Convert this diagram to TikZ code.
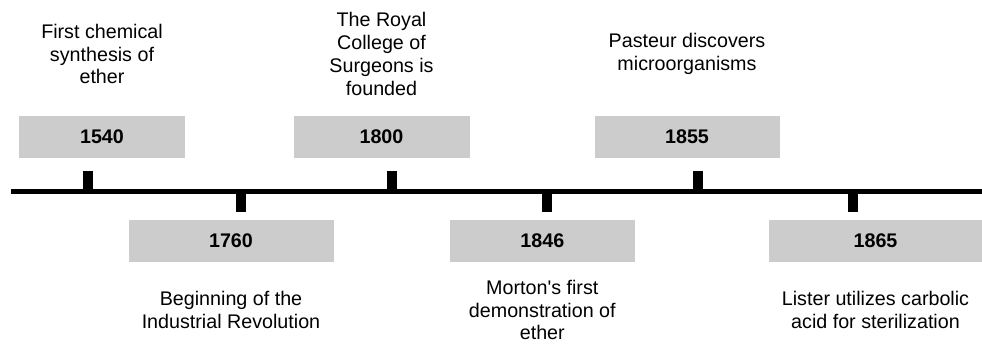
\documentclass[tikz,border=0pt]{standalone}
\usepackage{fontspec}
\setmainfont{Liberation Sans}
\definecolor{yeargray}{HTML}{CCCCCC}

\begin{document}
\begin{tikzpicture}[
  x=1pt, y=-1pt,
  year/.style={fill=yeargray, minimum height=42pt, inner sep=0pt,
               font=\fontsize{19.7}{22.7}\selectfont\bfseries},
  event/.style={align=center, inner sep=0pt,
                font=\fontsize{19.7}{22.7}\selectfont},
  tickmark/.style={fill=black, minimum width=10pt, minimum height=21pt, inner sep=0pt},
  axis/.style={line width=4.5pt}
]
\useasboundingbox (0,0) rectangle (982,343);

% Captions of a row share one centre line, whatever their number of lines.
\coordinate (toprow) at (0,54);
\coordinate (botrow) at (0,310);

% Year boxes above and below the axis.
\node[year, minimum width=166pt] (y1540) at (102,137)   {1540};
\node[year, minimum width=176pt] (y1800) at (381.5,137) {1800};
\node[year, minimum width=185pt] (y1855) at (687,137)   {1855};
\node[year, minimum width=205pt] (y1760) at (231,241)   {1760};
\node[year, minimum width=185pt] (y1846) at (542.3,241) {1846};
\node[year, minimum width=213pt] (y1865) at (875.5,241) {1865};

\node[event] (e1540) at (y1540 |- toprow) {First chemical\\synthesis of\\ether};
\node[event] (e1800) at (y1800 |- toprow) {The Royal\\College of\\Surgeons is\\founded};
\node[event] (e1855) at (y1855 |- toprow) {Pasteur discovers\\microorganisms};
\node[event] (e1760) at (y1760 |- botrow) {Beginning of the\\Industrial Revolution};
\node[event] (e1846) at (y1846 |- botrow) {Morton\textquotesingle s first\\demonstration of\\ether};
\node[event] (e1865) at (y1865 |- botrow) {Lister utilizes carbolic\\acid for sterilization};

% The axis runs off the right-hand edge.
\coordinate (axstart) at (11,191.7);
\coordinate (axend)   at (982,191.7);
\draw[axis] (axstart) -- (axend);

% Ticks sit on the axis, up for the top row and down for the bottom row.
\node[tickmark] (k1540) at (87.7,181)  {};
\node[tickmark] (k1800) at (392.2,181) {};
\node[tickmark] (k1855) at (698,181)   {};
\node[tickmark] (k1760) at (241.2,201) {};
\node[tickmark] (k1846) at (547,201)   {};
\node[tickmark] (k1865) at (852.5,201) {};

\end{tikzpicture}
\end{document}
